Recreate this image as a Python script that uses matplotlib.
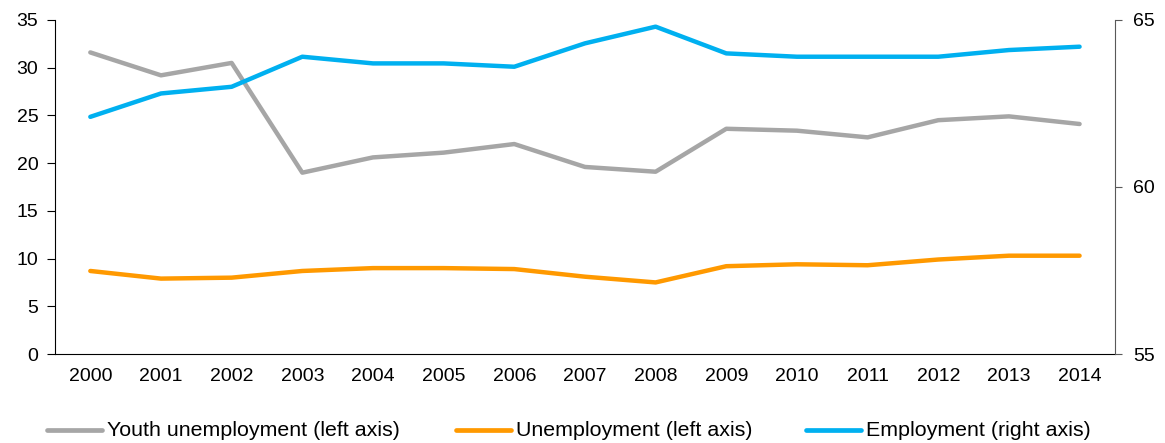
import matplotlib
matplotlib.use("Agg")
import matplotlib.pyplot as plt
from matplotlib.lines import Line2D

years = [str(y) for y in range(2000, 2015)]
youth = [31.6, 29.2, 30.5, 19.0, 20.6, 21.1, 22.0, 19.6, 19.1, 23.6, 23.4, 22.7, 24.5, 24.9, 24.1]
unemp = [8.7, 7.9, 8.0, 8.7, 9.0, 9.0, 8.9, 8.1, 7.5, 9.2, 9.4, 9.3, 9.9, 10.3, 10.3]
employ = [62.1, 62.8, 63.0, 63.9, 63.7, 63.7, 63.6, 64.3, 64.8, 64.0, 63.9, 63.9, 63.9, 64.1, 64.2]
labels = ["Youth unemployment (left axis)", "Unemployment (left axis)", "Employment (right axis)"]
colors = ["#A6A6A6", "#FF9900", "#00B0F0"]

plt.rcParams['font.family'] = ['Liberation Sans', 'DejaVu Sans']
W, H = 1165, 443
fig = plt.figure(figsize=(W / 100, H / 100), dpi=100)
ax = fig.add_axes([0.0472, 0.2009, 0.9098, 0.754])
ax2 = ax.twinx()
x = list(range(len(years)))
lw = 3.2
ax.plot(x, youth, color=colors[0], lw=lw, solid_capstyle='round', solid_joinstyle='round', zorder=2)
ax.plot(x, unemp, color=colors[1], lw=lw, solid_capstyle='round', solid_joinstyle='round', zorder=2)
ax2.plot(x, employ, color=colors[2], lw=lw, solid_capstyle='round', solid_joinstyle='round', zorder=3)

ax.set_xlim(-0.5, len(years) - 0.5)
ax.set_ylim(0, 35)
ax.set_yticks(range(0, 36, 5))
ax2.set_ylim(55, 65)
ax2.set_yticks([55, 60, 65])
ax.set_xticks(x)
ax.set_xticklabels(years)

for a in (ax, ax2):
    a.spines['top'].set_visible(False)
ax.spines['right'].set_visible(False)
ax2.spines['left'].set_visible(False)
ax2.spines['bottom'].set_visible(False)
ax2.spines['right'].set_color('#595959')
ax.spines['left'].set_color('black')
ax.spines['bottom'].set_color('black')
ax.tick_params(axis='x', length=0, labelsize=14, pad=10)
ax.tick_params(axis='y', length=6, labelsize=14, pad=6)
ax2.tick_params(axis='y', length=5, labelsize=14, pad=8, color='#595959')

# legend, placed manually (pixel positions)
leg_y = 1 - 430 / H
leg_items = [(47, 102, 107), (456, 511, 516), (806, 861, 866)]
for (x0, x1, xt), c, lab in zip(leg_items, colors, labels):
    fig.add_artist(Line2D([x0 / W, x1 / W], [leg_y, leg_y], transform=fig.transFigure,
                          color=c, lw=3.4, solid_capstyle='round'))
    fig.text(xt / W, leg_y, lab, fontsize=15.4, va='center', ha='left')

fig.savefig("out.png", dpi=100)
